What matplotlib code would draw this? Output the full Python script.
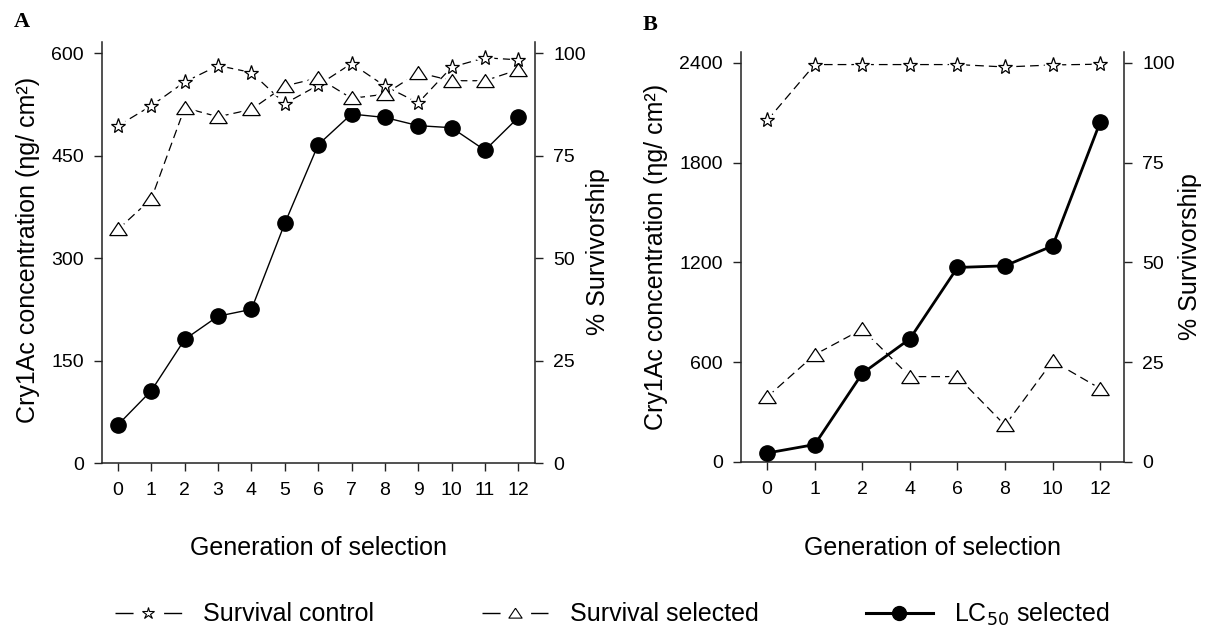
import matplotlib
matplotlib.use("Agg")
import matplotlib.pyplot as plt
from matplotlib.lines import Line2D

plt.rcParams['font.family'] = ['Liberation Sans', 'DejaVu Sans']

# Panel A data
gen_a = [0, 1, 2, 3, 4, 5, 6, 7, 8, 9, 10, 11, 12]
lc50_a = [56, 106, 181, 215, 225, 351, 466, 511, 506, 494, 491, 458, 506]
surv_ctrl_a = [82.3, 87.2, 93, 97, 95.3, 87.7, 92.2, 97.5, 92, 87.9, 96.6, 98.9, 98.4]
surv_sel_a = [57, 64.5, 86.7, 84.5, 86.3, 92, 94, 89, 90, 95.3, 93.3, 93.3, 96]

# Panel B data
gen_b = ['0', '1', '2', '4', '6', '8', '10', '12']
lc50_b = [54, 105, 533, 741, 1170, 1180, 1300, 2045]
surv_ctrl_b = [85.6, 99.6, 99.6, 99.6, 99.6, 99.0, 99.5, 99.7]
surv_sel_b = [16.3, 26.9, 33.3, 21.4, 21.4, 9.2, 25.3, 18.4]

W, H = 1221, 630
fig = plt.figure(figsize=(W / 100, H / 100), dpi=100)

dash = (0, (7, 4))
tri = [(0, 0.8), (-1, -0.7), (1, -0.7), (0, 0.8)]  # wide open triangle
LBL = 18
TICK = 14


def style(ax, right=False):
    ax.spines['top'].set_visible(False)
    if right:
        ax.spines['left'].set_visible(False)
        ax.spines['bottom'].set_visible(False)
    else:
        ax.spines['right'].set_visible(False)
    for s in ax.spines.values():
        s.set_linewidth(1.1)
        s.set_color('#222222')
    ax.tick_params(direction='out', length=6, width=1, labelsize=TICK, color='#222222')
    ax.tick_params(axis='y', pad=7)
    ax.tick_params(axis='x', pad=8)


def survival(ax, x, y, marker, ms):
    # dashed line, white gap round each marker, then the open marker
    ax.plot(x, y, color='black', lw=0.9, ls=dash, zorder=2)
    ax.plot(x, y, ls='none', marker=marker, ms=ms, mfc='white', mec='white', mew=5, zorder=3)
    ax.plot(x, y, ls='none', marker=marker, ms=ms, mfc='white', mec='black', mew=0.9, zorder=4)


def panel(rect, x, ticklabels, lc50, ctrl, sel, ymax, yticks, lc_lw, xlim):
    ax = fig.add_axes(rect)
    ax.plot(x, lc50, color='black', lw=lc_lw, marker='o', ms=11, zorder=3)
    ax.set_xlim(*xlim)
    ax.set_ylim(0, ymax)
    ax.set_yticks(yticks)
    ax.set_xticks(x)
    ax.set_xticklabels(ticklabels)
    style(ax)
    ax2 = ax.twinx()
    survival(ax2, x, ctrl, '*', 11)
    survival(ax2, x, sel, tri, 12.5)
    ax2.set_ylim(0, ymax * 100 / yticks[-1])
    ax2.set_yticks([0, 25, 50, 75, 100])
    style(ax2, right=True)
    return ax, ax2


# ---- Panel A ----  (pixel frame: x 102-535, y 42-463)
axA, axA2 = panel([102 / W, 1 - 463 / H, 433 / W, 421 / H], gen_a, [str(g) for g in gen_a],
                  lc50_a, surv_ctrl_a, surv_sel_a, 616.5, [0, 150, 300, 450, 600], 1.0, (-0.48, 12.5))

# ---- Panel B ----  (pixel frame: x 741-1124, y 52-462)
xb = list(range(len(gen_b)))
axB, axB2 = panel([741 / W, 1 - 462 / H, 383 / W, 410 / H], xb, gen_b,
                  lc50_b, surv_ctrl_b, surv_sel_b, 2466, [0, 600, 1200, 1800, 2400], 2.0, (-0.55, 7.5))

# axis titles
ylab = 'Cry1Ac concentration (ηg/ cm²)'
fig.text(28 / W, 1 - 250 / H, ylab, rotation=90, ha='center', va='center', fontsize=LBL)
fig.text(598 / W, 1 - 252 / H, '% Survivorship', rotation=90, ha='center', va='center', fontsize=LBL)
fig.text(318 / W, 1 - 548 / H, 'Generation of selection', ha='center', va='center', fontsize=LBL)
fig.text(656 / W, 1 - 257 / H, ylab, rotation=90, ha='center', va='center', fontsize=LBL)
fig.text(1190 / W, 1 - 257 / H, '% Survivorship', rotation=90, ha='center', va='center', fontsize=LBL)
fig.text(932 / W, 1 - 548 / H, 'Generation of selection', ha='center', va='center', fontsize=LBL)

fig.text(22 / W, 1 - 22 / H, 'A', ha='center', va='center', fontsize=16, fontweight='bold',
         family='Liberation Serif')
fig.text(650 / W, 1 - 25 / H, 'B', ha='center', va='center', fontsize=16, fontweight='bold',
         family='Liberation Serif')

# ---- Legend ----
gap = (0, (13, 22))
handles = [
    Line2D([], [], color='black', lw=1.0, ls=gap, marker='*', ms=9, mfc='white', mec='black', mew=0.8),
    Line2D([], [], color='black', lw=1.0, ls=gap, marker=tri, ms=9.5, mfc='white', mec='black', mew=0.8),
    Line2D([], [], color='black', lw=2.2, marker='o', ms=10),
]
labels = ['Survival control', 'Survival selected', 'LC$_{50}$ selected']
fig.legend(handles, labels, loc='center left', bbox_to_anchor=(115 / W, 1 - 614 / H), ncol=3,
           frameon=False, fontsize=LBL, handlelength=2.67, handletextpad=0.85,
           columnspacing=4.3, borderpad=0, borderaxespad=0, numpoints=1)

fig.savefig('out.png', dpi=100)
